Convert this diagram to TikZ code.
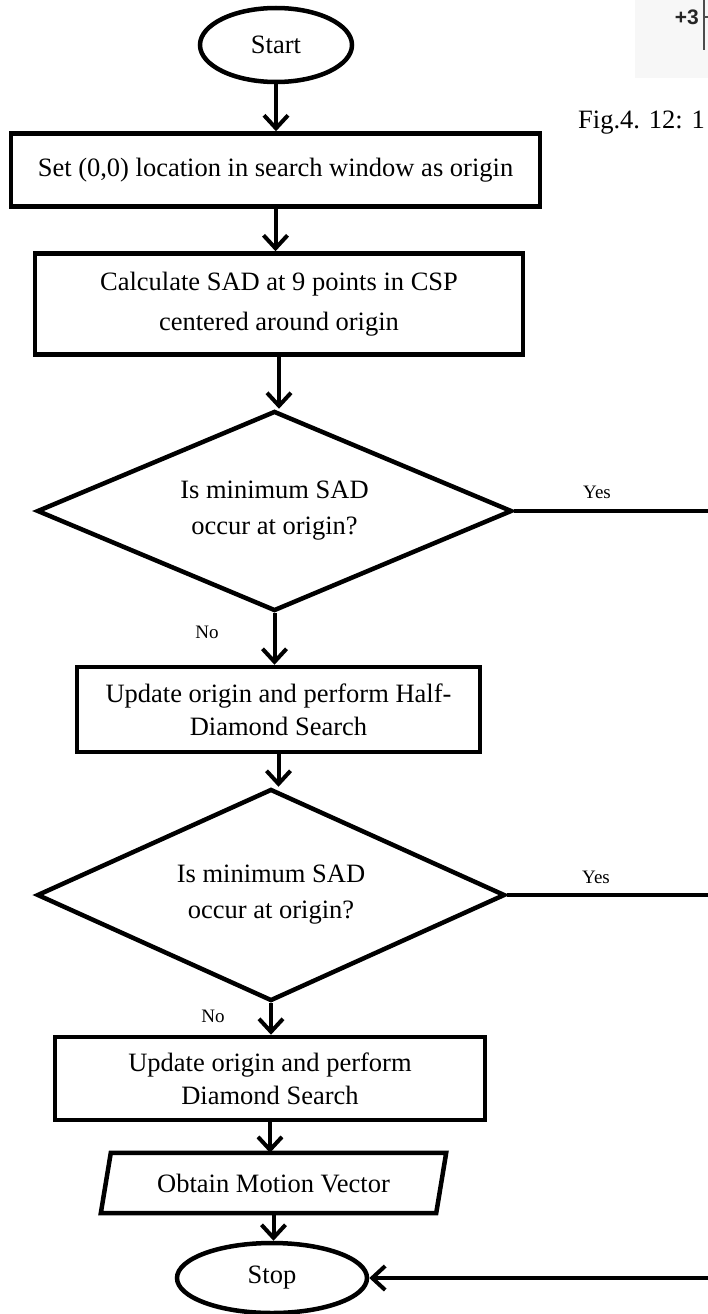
\documentclass[tikz,border=0pt]{standalone}
\usepackage{fontspec}
\setmainfont{Liberation Serif}
\newfontfamily\tagsans{Liberation Sans}
\usetikzlibrary{shapes.geometric,arrows.meta}

\begin{document}
\begin{tikzpicture}[x=1pt,y=-1pt,
  every node/.style={font=\fontsize{26.5}{38}\selectfont, inner sep=0pt},
  frame/.style={line width=4.5pt},
  terminal/.style={frame, draw, ellipse},
  process/.style={frame, draw, rectangle, align=center},
  decision/.style={frame, draw, diamond, aspect=2.2, align=center},
  flow/.style={line width=4pt, -{Straight Barb[length=13pt,width=24pt]}},
  link/.style={line width=4pt},
  branch/.style={font=\fontsize{19}{22}\selectfont},
]
\useasboundingbox (0,0) rectangle (708,1314);
\clip (0,0) rectangle (708,1314);

% fragment of the neighbouring figure in the corner
\fill[black!3] (635,0) rectangle (708,78);
\node[font=\tagsans\bfseries\fontsize{21}{24}\selectfont, text=black!85, anchor=east] (plus) at (699,17) {+3};
\draw[black!70, line width=1.2pt] (704,0) -- (704,50);
\draw[black!70, line width=1.2pt] (704,17) -- (710,17);
\node[anchor=base west] (fig) at (578,128) {Fig.4. 12: 1};

% right edge where the Yes branches run off
\coordinate (edge) at (712,0);

% flowchart nodes
\node[terminal, minimum width=152pt, minimum height=74pt] (start) at (276,45) {Start};
\node[process, minimum width=529pt, minimum height=73pt] (b1) at (275.5,170) {Set (0,0) location in search window as origin};
\node[process, minimum width=488pt, minimum height=101pt, font=\fontsize{26.5}{40}\selectfont] (b2) at (279,304) {Calculate SAD at 9 points in CSP\\centered around origin};
\node[decision, minimum width=475pt, minimum height=200pt, font=\fontsize{26.5}{36}\selectfont] (d1) at (274.5,511) {Is minimum SAD\\occur at origin?};
\node[process, minimum width=403pt, minimum height=85pt, font=\fontsize{26.5}{33}\selectfont] (b3) at (278.5,709.5) {Update origin and perform Half-\\Diamond Search};
\node[decision, minimum width=468pt, minimum height=212pt, font=\fontsize{26.5}{36}\selectfont] (d2) at (271,895) {Is minimum SAD\\occur at origin?};
\node[process, minimum width=430pt, minimum height=83pt, font=\fontsize{26.5}{33}\selectfont] (b4) at (270,1078.5) {Update origin and perform\\Diamond Search};
\node[minimum width=335pt, minimum height=60pt] (io) at (273.5,1183) {Obtain Motion Vector};
\draw[frame] ([xshift=-5pt]io.south west) -- ([xshift=5pt]io.north west) -- ([xshift=5pt]io.north east) -- ([xshift=-5pt]io.south east) -- cycle;
\node[terminal, minimum width=190pt, minimum height=70pt] (stop) at (272,1278) {Stop};

% branch labels
\node[branch] (yes1) at (597,492) {Yes};
\node[branch] (no1) at (207,632) {No};
\node[branch] (yes2) at (596,877) {Yes};
\node[branch] (no2) at (213,1016) {No};

% connectors
\draw[flow] (start.south) -- (start.south |- b1.north);
\draw[flow] (b1.south) -- (b1.south |- b2.north);
\draw[flow] (b2.south) -- (b2.south |- d1.north);
\draw[flow] (d1.south) -- (d1.south |- b3.north);
\draw[flow] (b3.south) -- (b3.south |- d2.north);
\draw[flow] (d2.south) -- (d2.south |- b4.north);
\draw[flow] (b4.south) -- (b4.south |- io.north);
\draw[flow] (io.south) -- (io.south |- stop.north);
\draw[link] (d1.east) -- (d1.east -| edge);
\draw[link] (d2.east) -- (d2.east -| edge);
\draw[flow] (stop.east -| edge) -- (stop.east);
\end{tikzpicture}
\end{document}
